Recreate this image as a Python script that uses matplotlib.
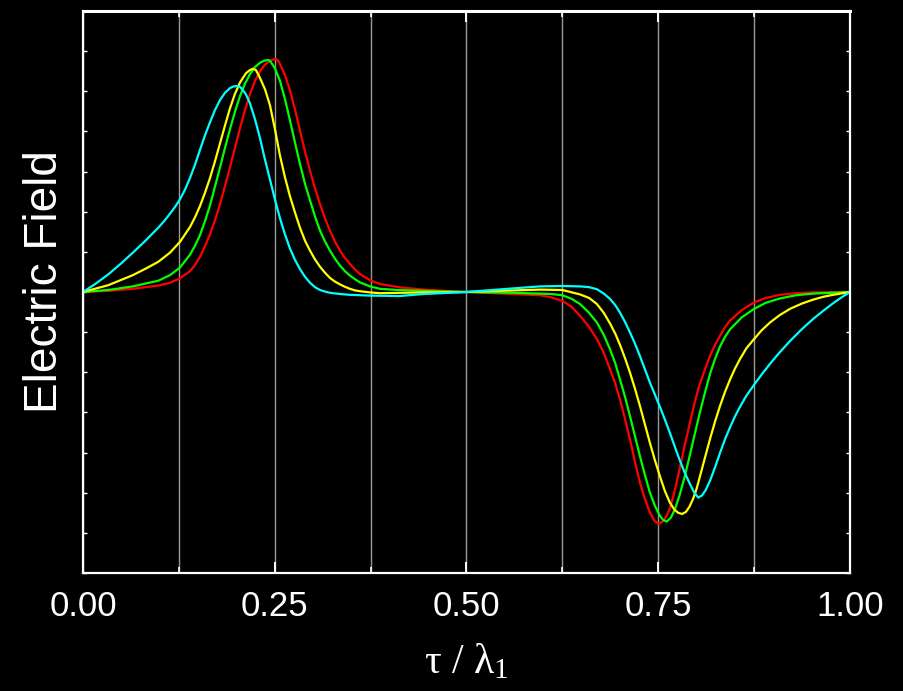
import numpy as np
import matplotlib
matplotlib.use("Agg")
import matplotlib.pyplot as plt
from matplotlib.ticker import MultipleLocator, NullFormatter, FormatStrFormatter

# (tau/lambda, field) pairs; y axis spans -7..7
red = np.array([
    (0, 0), (0.033, 0.03), (0.065, 0.08), (0.098, 0.16), (0.1134, 0.23), (0.1265, 0.34),
    (0.1395, 0.52), (0.146, 0.67), (0.1525, 0.88), (0.159, 1.14), (0.1656, 1.44),
    (0.172, 1.78), (0.1786, 2.19), (0.185, 2.63), (0.1917, 3.11), (0.198, 3.58),
    (0.2047, 4.08), (0.211, 4.52), (0.2177, 4.93), (0.224, 5.25), (0.2308, 5.50),
    (0.237, 5.66), (0.2438, 5.76), (0.2475, 5.79), (0.2516, 5.80), (0.2545, 5.76),
    (0.2568, 5.68), (0.2634, 5.40), (0.2699, 5.02), (0.2764, 4.55), (0.2829, 4.02),
    (0.2894, 3.50), (0.296, 3.02), (0.3025, 2.58), (0.309, 2.19), (0.3155, 1.83),
    (0.322, 1.53), (0.3285, 1.26), (0.335, 1.03), (0.3415, 0.85), (0.348, 0.70),
    (0.3545, 0.56), (0.361, 0.45), (0.3675, 0.37), (0.374, 0.30), (0.38, 0.25),
    (0.387, 0.20), (0.415, 0.11), (0.4437, 0.06), (0.47, 0.03), (0.5, 0),
    (0.561, -0.05), (0.596, -0.08), (0.61, -0.13), (0.625, -0.22), (0.637, -0.37),
    (0.648, -0.59), (0.659, -0.85), (0.670, -1.17), (0.679, -1.52), (0.687, -1.92),
    (0.694, -2.28), (0.700, -2.67), (0.7065, -3.15), (0.713, -3.66), (0.7195, -4.22),
    (0.726, -4.74), (0.7325, -5.15), (0.739, -5.49), (0.745, -5.70), (0.751, -5.78),
    (0.758, -5.68), (0.765, -5.41), (0.7715, -4.95), (0.778, -4.40), (0.7845, -3.82),
    (0.791, -3.28), (0.7975, -2.75), (0.804, -2.30), (0.811, -1.92), (0.8175, -1.59),
    (0.824, -1.32), (0.8305, -1.09), (0.837, -0.88), (0.8436, -0.71), (0.859, -0.45),
    (0.875, -0.26), (0.89, -0.15), (0.9087, -0.07), (0.93, -0.03), (0.952, -0.01),
    (1.0, 0)])

green = np.array([
    (0, 0), (0.033, 0.05), (0.065, 0.14), (0.098, 0.28), (0.1134, 0.42), (0.1265, 0.61),
    (0.1395, 0.93), (0.146, 1.15), (0.1525, 1.42), (0.159, 1.76), (0.1656, 2.16),
    (0.172, 2.62), (0.1786, 3.10), (0.185, 3.58), (0.1917, 4.06), (0.198, 4.48),
    (0.2047, 4.88), (0.211, 5.18), (0.2177, 5.43), (0.224, 5.60), (0.2308, 5.71),
    (0.236, 5.76), (0.2416, 5.78), (0.2438, 5.76), (0.2503, 5.57), (0.2568, 5.26),
    (0.2634, 4.80), (0.2699, 4.27), (0.2764, 3.72), (0.2829, 3.19), (0.2894, 2.70),
    (0.296, 2.28), (0.3025, 1.88), (0.309, 1.53), (0.3155, 1.26), (0.322, 1.03),
    (0.3285, 0.83), (0.335, 0.66), (0.3415, 0.52), (0.348, 0.41), (0.3545, 0.32),
    (0.361, 0.24), (0.3675, 0.19), (0.374, 0.14), (0.387, 0.08), (0.41, 0.05),
    (0.4437, 0.03), (0.47, 0.015), (0.5, 0), (0.561, -0.02), (0.596, -0.04),
    (0.61, -0.05), (0.625, -0.08), (0.637, -0.17), (0.648, -0.30), (0.659, -0.50),
    (0.670, -0.76), (0.679, -1.07), (0.687, -1.42), (0.694, -1.78), (0.700, -2.17),
    (0.7065, -2.60), (0.713, -3.08), (0.7195, -3.58), (0.726, -4.08), (0.7325, -4.55),
    (0.739, -4.99), (0.7455, -5.32), (0.752, -5.57), (0.7565, -5.68), (0.761, -5.72),
    (0.7665, -5.62), (0.772, -5.40), (0.778, -5.05), (0.7845, -4.60), (0.791, -4.08),
    (0.7975, -3.55), (0.804, -3.02), (0.811, -2.50), (0.8175, -2.04), (0.824, -1.67),
    (0.8305, -1.36), (0.837, -1.12), (0.8436, -0.93), (0.859, -0.63), (0.875, -0.42),
    (0.89, -0.27), (0.9087, -0.16), (0.93, -0.08), (0.952, -0.04), (1.0, 0)])

yellow = np.array([
    (0, 0), (0.033, 0.17), (0.065, 0.42), (0.0815, 0.58), (0.098, 0.75), (0.1134, 0.98),
    (0.1265, 1.25), (0.1395, 1.62), (0.146, 1.86), (0.1525, 2.14), (0.159, 2.47),
    (0.1656, 2.84), (0.172, 3.25), (0.1786, 3.70), (0.185, 4.14), (0.1917, 4.58),
    (0.198, 4.93), (0.2047, 5.22), (0.2125, 5.45), (0.217, 5.52), (0.2212, 5.56),
    (0.2255, 5.53), (0.2308, 5.33), (0.2373, 5.05), (0.2438, 4.65), (0.2503, 4.05),
    (0.2568, 3.40), (0.2634, 2.85), (0.2699, 2.38), (0.2764, 1.98), (0.2829, 1.60),
    (0.2894, 1.28), (0.296, 1.03), (0.3025, 0.81), (0.309, 0.63), (0.3155, 0.48),
    (0.322, 0.35), (0.3285, 0.26), (0.335, 0.19), (0.3415, 0.13), (0.348, 0.08),
    (0.3545, 0.04), (0.361, 0.02), (0.374, -0.01), (0.387, -0.03), (0.4437, -0.01),
    (0.5, 0), (0.561, 0.04), (0.596, 0.06), (0.625, 0.05), (0.648, -0.06),
    (0.66, -0.15), (0.670, -0.30), (0.679, -0.52), (0.687, -0.78), (0.694, -1.04),
    (0.700, -1.31), (0.7065, -1.64), (0.713, -2.00), (0.7195, -2.40), (0.726, -2.83),
    (0.7325, -3.29), (0.739, -3.75), (0.7455, -4.18), (0.752, -4.58), (0.7585, -4.95),
    (0.765, -5.24), (0.771, -5.42), (0.776, -5.50), (0.781, -5.53), (0.786, -5.48),
    (0.791, -5.34), (0.7957, -5.14), (0.8, -4.90), (0.804, -4.62), (0.811, -4.12),
    (0.8175, -3.66), (0.824, -3.23), (0.8305, -2.84), (0.837, -2.49), (0.8436, -2.18),
    (0.85, -1.91), (0.8566, -1.67), (0.865, -1.40), (0.875, -1.17), (0.885, -0.95),
    (0.8957, -0.76), (0.908, -0.58), (0.9218, -0.42), (0.937, -0.29), (0.952, -0.19),
    (0.965, -0.12), (0.978, -0.07), (1.0, 0)])

cyan = np.array([
    (0, 0), (0.016, 0.20), (0.033, 0.44), (0.049, 0.70), (0.065, 0.98), (0.0815, 1.28),
    (0.098, 1.60), (0.106, 1.77), (0.1134, 1.95), (0.12, 2.12), (0.1265, 2.31),
    (0.133, 2.55), (0.1395, 2.84), (0.146, 3.17), (0.1525, 3.54), (0.159, 3.90),
    (0.1656, 4.23), (0.172, 4.53), (0.1786, 4.78), (0.185, 4.96), (0.1917, 5.08),
    (0.196, 5.12), (0.2004, 5.13), (0.2047, 5.11), (0.2085, 5.03), (0.2125, 4.92),
    (0.2177, 4.70), (0.224, 4.32), (0.2308, 3.83), (0.237, 3.32), (0.2438, 2.80),
    (0.2503, 2.30), (0.2568, 1.84), (0.2634, 1.43), (0.2699, 1.08), (0.2764, 0.80),
    (0.2829, 0.57), (0.2894, 0.38), (0.296, 0.23), (0.3025, 0.12), (0.309, 0.05),
    (0.3155, 0.01), (0.322, -0.02), (0.335, -0.05), (0.348, -0.07), (0.374, -0.09),
    (0.413, -0.10), (0.4437, -0.05), (0.5, 0), (0.561, 0.09), (0.596, 0.14),
    (0.625, 0.15), (0.648, 0.14), (0.66, 0.12), (0.670, 0.07), (0.679, -0.04),
    (0.687, -0.17), (0.694, -0.33), (0.700, -0.51), (0.7065, -0.74), (0.713, -1.00),
    (0.7195, -1.28), (0.726, -1.59), (0.7325, -1.92), (0.739, -2.25), (0.7455, -2.55),
    (0.752, -2.85), (0.7585, -3.17), (0.765, -3.50), (0.7715, -3.85), (0.778, -4.19),
    (0.7845, -4.50), (0.791, -4.77), (0.797, -5.00), (0.802, -5.12), (0.807, -5.07),
    (0.812, -4.93), (0.8175, -4.70), (0.824, -4.37), (0.8305, -4.01), (0.837, -3.67),
    (0.8436, -3.37), (0.85, -3.10), (0.8566, -2.86), (0.865, -2.58), (0.875, -2.31),
    (0.885, -2.05), (0.8957, -1.79), (0.908, -1.51), (0.9218, -1.22), (0.937, -0.93),
    (0.952, -0.67), (0.965, -0.47), (0.978, -0.28), (0.99, -0.12), (1.0, 0)])

series = [(red, "#ff0000"), (green, "#00ff00"), (yellow, "#ffff00"), (cyan, "#00ffff")]

plt.rcParams["font.family"] = ["Liberation Sans", "DejaVu Sans"]

fig = plt.figure(figsize=(9.04, 6.91), dpi=100, facecolor="black")
ax = fig.add_axes([83/904, 1-573/691, (850-83)/904, (573-11)/691])
ax.set_facecolor("black")

for d, c in series:
    ax.plot(d[:, 0], d[:, 1], color=c, lw=1.6, solid_joinstyle="round")

ax.set_xlim(0, 1)
ax.set_ylim(-7, 7)
ax.xaxis.set_major_locator(MultipleLocator(0.25))
ax.xaxis.set_minor_locator(MultipleLocator(0.125))
ax.yaxis.set_major_locator(MultipleLocator(1))
ax.yaxis.set_major_formatter(NullFormatter())
ax.xaxis.set_major_formatter(FormatStrFormatter("%.2f"))

ax.grid(True, axis="x", which="both", color="#9a9a9a", lw=1)
ax.set_axisbelow(True)

for s in ax.spines.values():
    s.set_color("white")
    s.set_linewidth(1.6)
ax.spines["top"].set_linewidth(2.2)

ax.tick_params(axis="x", which="major", direction="in", top=True, length=8, width=1.4,
               color="white", labelcolor="white", labelsize=25, pad=12)
ax.tick_params(axis="x", which="minor", direction="in", top=True, length=4, width=1.2,
               color="white")
ax.tick_params(axis="y", which="major", direction="in", right=True, length=3, width=1,
               color="white")

ax.set_ylabel("Electric Field", color="white", fontsize=33)
ax.yaxis.set_label_coords(-0.021, 0.519)
ax.set_xlabel(r"$\mathregular{\tau}$ / $\mathregular{\lambda_1}$", color="white",
              fontsize=30, family="Liberation Serif", labelpad=14)

fig.savefig("out.png", dpi=100, facecolor="black")
